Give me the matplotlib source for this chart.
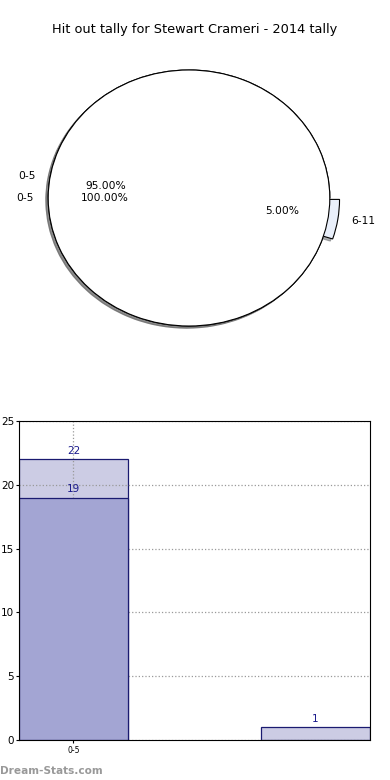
import matplotlib
matplotlib.use("Agg")
import matplotlib.pyplot as plt

title = "Hit out tally for Stewart Crameri - 2014 tally"
pie_labels = ["0-5", "6-11"]
pie_values = [95.0, 5.0]
pie_inner_labels = ["0-5"]
pie_inner_values = [100.0]

bar_categories = ["0-5", "6-11"]
bar_light = [22, 1]
bar_dark = [19, 0]

fig = plt.figure(figsize=(3.9, 7.8), dpi=100)

# Pie
axp = fig.add_axes([0.0333, 0.541, 0.9026, 0.4103])
shadow_kw = dict(ox=-0.012, oy=-0.012, shade=0.6)
w1, t1, a1 = axp.pie(pie_values, labels=pie_labels, autopct="%.2f%%", startangle=0,
                     explode=[0, 0.07], shadow=shadow_kw,
                     colors=["#ffffff", "#e9effa"],
                     wedgeprops=dict(edgecolor="black", linewidth=0.8),
                     textprops=dict(fontsize=7.7))
w2, t2, a2 = axp.pie(pie_inner_values, labels=pie_inner_labels, autopct="%.2f%%", startangle=0,
                     shadow=shadow_kw, colors=["#ffffff"],
                     wedgeprops=dict(edgecolor="black", linewidth=0.8),
                     textprops=dict(fontsize=7.7))
axp.set_aspect("auto")
axp.set_xlim(-1.25, 1.25)
axp.set_ylim(-1.25, 1.25)

fig.text(0.5, 1 - 30 / 780, title, ha="center", va="center", fontsize=9.3)

# Bars
axb = fig.add_axes([0.0487, 0.0513, 0.9, 0.409])
width = 0.45
xs = list(range(len(bar_categories)))
axb.bar(xs, bar_light, width=width, color="#ccccE4", edgecolor="#1a1a70", linewidth=0.9, zorder=2)
dark_x = [x for x, v in zip(xs, bar_dark) if v > 0]
dark_v = [v for v in bar_dark if v > 0]
axb.bar(dark_x, dark_v, width=width, color="#a3a5d3", edgecolor="#1a1a70", linewidth=0.9, zorder=3)
for x, v in zip(xs, bar_light):
    axb.text(x, v + 0.25, str(v), ha="center", va="bottom", fontsize=7.5, color="#1a1a8c", zorder=6)
for x, v in zip(dark_x, dark_v):
    axb.text(x, v + 0.25, str(v), ha="center", va="bottom", fontsize=7.5, color="#1a1a8c", zorder=6)

axb.set_xlim(-width / 2, xs[-1] + width / 2)
axb.set_ylim(0, 25)
axb.set_yticks([0, 5, 10, 15, 20, 25])
axb.set_xticks([0])
axb.set_xticklabels([bar_categories[0]], fontsize=5.5)
axb.tick_params(axis="y", labelsize=7.5, length=2, pad=1.5)
axb.tick_params(axis="x", length=2, pad=2)
axb.set_axisbelow(False)
axb.grid(True, linestyle=":", color="#999999", linewidth=0.9, zorder=4)
for s in axb.spines.values():
    s.set_linewidth(0.8)
    s.set_zorder(5)

fig.text(0.0, 1 - 771 / 780, "Dream-Stats.com", ha="left", va="center",
         fontsize=7.6, color="#999999", fontweight="bold")

fig.savefig("out.png", dpi=100)
